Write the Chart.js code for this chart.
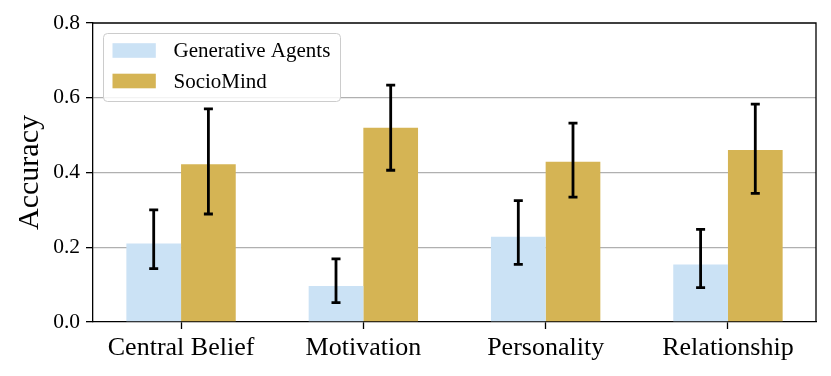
<!DOCTYPE html>
<html>
<head>
<meta charset="utf-8">
<script src="https://cdn.jsdelivr.net/npm/chart.js@4.4.0/dist/chart.umd.min.js"></script>
<style>
  html, body { margin: 0; padding: 0; background: #fff; }
  #wrap { width: 831px; height: 376px; }
</style>
</head>
<body>
<div id="wrap"><canvas id="c" width="831" height="376"></canvas></div>
<script>
const categories = ['Central Belief', 'Motivation', 'Personality', 'Relationship'];
const seriesNames = ['Generative Agents', 'SocioMind'];
const gaValues = [0.210, 0.096, 0.228, 0.154];
const smValues = [0.422, 0.520, 0.429, 0.460];
const gaLow  = [0.143, 0.052, 0.154, 0.092];
const gaHigh = [0.300, 0.169, 0.325, 0.248];
const smLow  = [0.289, 0.406, 0.334, 0.344];
const smHigh = [0.570, 0.634, 0.532, 0.583];
const yTicks = [0.0, 0.2, 0.4, 0.6, 0.8];

const FONT = "'Liberation Serif', 'Times New Roman', serif";
const GA_COLOR = '#cbe2f5';
const SM_COLOR = '#d5b454';

const errorBars = [
  { low: gaLow, high: gaHigh },
  { low: smLow, high: smHigh }
];

const framePlugin = {
  id: 'frameAndExtras',
  afterDatasetsDraw(chart) {
    const ctx = chart.ctx;
    const y = chart.scales.y;
    ctx.save();
    ctx.strokeStyle = '#000';
    ctx.lineWidth = 2.8;
    ctx.lineCap = 'butt';
    errorBars.forEach((eb, di) => {
      const meta = chart.getDatasetMeta(di);
      meta.data.forEach((bar, j) => {
        const x = bar.x;
        const yl = y.getPixelForValue(eb.low[j]);
        const yh = y.getPixelForValue(eb.high[j]);
        ctx.beginPath();
        ctx.moveTo(x, yl); ctx.lineTo(x, yh);
        ctx.moveTo(x - 4.5, yl); ctx.lineTo(x + 4.5, yl);
        ctx.moveTo(x - 4.5, yh); ctx.lineTo(x + 4.5, yh);
        ctx.stroke();
      });
    });
    ctx.restore();
  },
  afterDraw(chart) {
    const ctx = chart.ctx;
    const a = chart.chartArea;
    ctx.save();
    ctx.strokeStyle = '#000';
    ctx.lineWidth = 1.3;
    ctx.beginPath();
    ctx.moveTo(a.left, a.top); ctx.lineTo(a.right, a.top); ctx.lineTo(a.right, a.bottom);
    ctx.stroke();
    // legend
    const bx = a.left + 10.5, by = a.top + 10.5, bw = 237, bh = 68, r = 4;
    ctx.fillStyle = 'rgba(255,255,255,0.85)';
    ctx.strokeStyle = '#cccccc';
    ctx.lineWidth = 1;
    ctx.beginPath();
    ctx.moveTo(bx + r, by);
    ctx.lineTo(bx + bw - r, by); ctx.arcTo(bx + bw, by, bx + bw, by + r, r);
    ctx.lineTo(bx + bw, by + bh - r); ctx.arcTo(bx + bw, by + bh, bx + bw - r, by + bh, r);
    ctx.lineTo(bx + r, by + bh); ctx.arcTo(bx, by + bh, bx, by + bh - r, r);
    ctx.lineTo(bx, by + r); ctx.arcTo(bx, by, bx + r, by, r);
    ctx.closePath();
    ctx.fill(); ctx.stroke();
    const colors = [GA_COLOR, SM_COLOR];
    ctx.font = '21px ' + FONT;
    ctx.textBaseline = 'middle';
    ctx.textAlign = 'left';
    seriesNames.forEach((name, i) => {
      const cy = by + 17 + i * 30.5;
      ctx.fillStyle = colors[i];
      ctx.fillRect(bx + 9, cy - 7.3, 43.3, 14.6);
      ctx.fillStyle = '#000';
      ctx.fillText(name, bx + 70, cy + 1);
    });
    ctx.restore();
  }
};

new Chart(document.getElementById('c'), {
  type: 'bar',
  data: {
    labels: categories,
    datasets: [
      { label: seriesNames[0], data: gaValues, backgroundColor: GA_COLOR, borderWidth: 0,
        categoryPercentage: 0.6, barPercentage: 1.0 },
      { label: seriesNames[1], data: smValues, backgroundColor: SM_COLOR, borderWidth: 0,
        categoryPercentage: 0.6, barPercentage: 1.0 }
    ]
  },
  options: {
    responsive: false,
    animation: false,
    devicePixelRatio: 1,
    layout: { padding: { left: 0, top: 23, right: 15, bottom: 0 } },
    plugins: { legend: { display: false }, tooltip: { enabled: false } },
    scales: {
      x: {
        type: 'category',
        offset: true,
        grid: { display: true, drawOnChartArea: false, drawTicks: true, offset: false,
                tickLength: 7, tickColor: '#000', tickWidth: 1.3 },
        border: { display: true, color: '#000', width: 1.3 },
        ticks: { color: '#000', font: { family: FONT, size: 26 }, padding: 4, maxRotation: 0 },
        afterBuildTicks(scale) {
          // matplotlib-like side margins (slightly narrower than half a category)
          scale._startValue = -0.483;
          scale._valueRange = 3.966;
        },
        afterFit(scale) { scale.height = 54; }
      },
      y: {
        min: 0, max: 0.8,
        afterBuildTicks(scale) { scale.ticks = yTicks.map(v => ({ value: v })); },
        grid: {
          color: ctx => (ctx.tick && (ctx.tick.value === 0 || ctx.tick.value === 0.8)) ? 'rgba(0,0,0,0)' : '#b0b0b0',
          lineWidth: 1.3, drawTicks: true, tickLength: 7, tickColor: '#000', tickWidth: 1.3
        },
        border: { display: true, color: '#000', width: 1.3 },
        ticks: { color: '#000', font: { family: FONT, size: 21.5 }, padding: 6,
                 callback: v => Number(v).toFixed(1) },
        title: { display: true, text: 'Accuracy', color: '#000',
                 font: { family: FONT, size: 30 }, padding: { top: 12, bottom: 0 } },
        afterFit(scale) { scale.width = 93; }
      }
    }
  },
  plugins: [framePlugin]
});
</script>
</body>
</html>
